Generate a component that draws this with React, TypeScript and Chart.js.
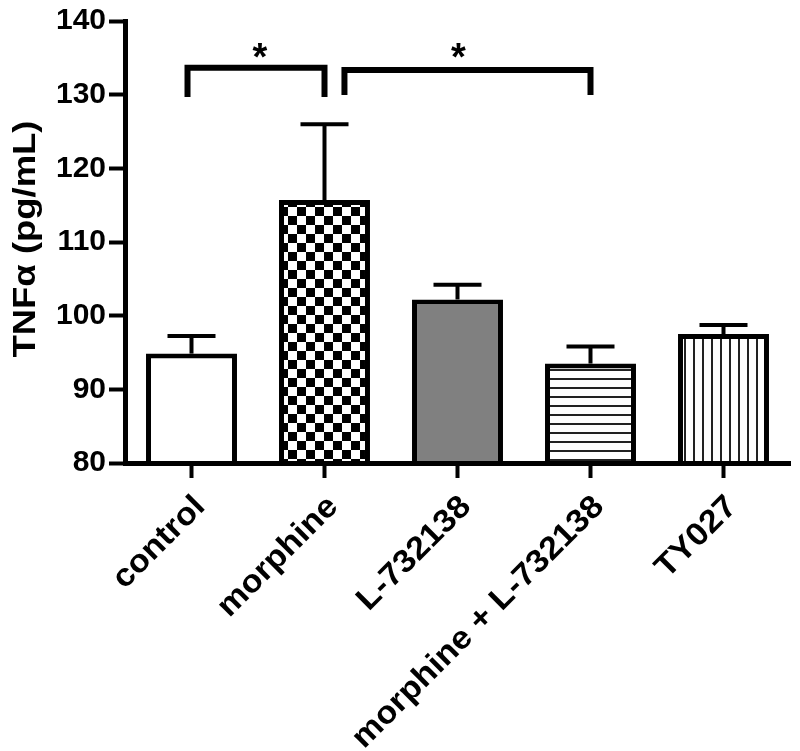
import React, { useEffect, useRef } from 'react';
import { Chart, registerables } from 'chart.js';

Chart.register(...registerables);

// ---- data ----
const categories = ['control', 'morphine', 'L-732138', 'morphine + L-732138', 'TY027'];
const means = [94.85, 115.7, 102.2, 93.5, 97.5];
const sems = [2.4, 10.3, 2.0, 2.3, 1.25];
const yMin = 80;
const yMax = 140;
const yStep = 10;
const yTitle = 'TNFα (pg/mL)';
// significance brackets, in category-index / value units
const bracketFrom = [-0.03, 1.15];
const bracketTo = [1.0, 3.0];
const bracketTop = [133.65, 133.35];
const bracketLeg = [129.7, 129.95];
const starX = [0.515, 2.006];
const starY = [136.06, 136.06];
const starText = ['*', '*'];

// ---- styles (kept separate from data) ----
const fillKinds = ['white', 'checker', 'gray', 'hlines', 'vlines'];
const FONT = '"Liberation Sans", Arial, Helvetica, sans-serif';

function makeFill(kind: string): any {
  if (kind === 'white') return '#ffffff';
  if (kind === 'gray') return '#808080';
  const c = document.createElement('canvas');
  const g = c.getContext('2d')!;
  if (kind === 'checker') {
    c.width = 18; c.height = 18;
    g.fillStyle = '#fff'; g.fillRect(0, 0, 18, 18);
    g.fillStyle = '#000'; g.fillRect(0, 0, 9, 9); g.fillRect(9, 9, 9, 9);
  } else if (kind === 'hlines') {
    c.width = 9; c.height = 9;
    g.fillStyle = '#fff'; g.fillRect(0, 0, 9, 9);
    g.fillStyle = '#222'; g.fillRect(0, 0, 9, 2);
  } else {
    c.width = 9; c.height = 9;
    g.fillStyle = '#fff'; g.fillRect(0, 0, 9, 9);
    g.fillStyle = '#222'; g.fillRect(0, 0, 2, 9);
  }
  return g.createPattern(c, 'repeat');
}

const decorPlugin = {
  id: 'decor',
  afterDatasetsDraw(chart: any) {
    const ctx = chart.ctx;
    const xs = chart.scales.x;
    const ys = chart.scales.y;
    const meta = chart.getDatasetMeta(0);
    ctx.save();
    ctx.strokeStyle = '#000';
    ctx.fillStyle = '#000';
    ctx.lineCap = 'butt';
    // error bars (upper only)
    meta.data.forEach((bar: any, i: number) => {
      const x = bar.x;
      const yTop = bar.y;
      const yCap = ys.getPixelForValue(means[i] + sems[i]);
      ctx.lineWidth = 4;
      ctx.beginPath();
      ctx.moveTo(x, yTop);
      ctx.lineTo(x, yCap);
      ctx.stroke();
      ctx.beginPath();
      ctx.moveTo(x - 24, yCap);
      ctx.lineTo(x + 24, yCap);
      ctx.stroke();
    });
    // brackets
    const catW = xs.getPixelForValue(1) - xs.getPixelForValue(0);
    const px = (v: number) => xs.getPixelForValue(0) + v * catW;
    ctx.lineWidth = 6;
    ctx.lineJoin = 'miter';
    for (let i = 0; i < bracketFrom.length; i++) {
      const x1 = px(bracketFrom[i]);
      const x2 = px(bracketTo[i]);
      const yt = ys.getPixelForValue(bracketTop[i]);
      const yl = ys.getPixelForValue(bracketLeg[i]);
      ctx.beginPath();
      ctx.moveTo(x1, yl);
      ctx.lineTo(x1, yt);
      ctx.lineTo(x2, yt);
      ctx.lineTo(x2, yl);
      ctx.stroke();
    }
    // stars
    ctx.font = `bold 38px ${FONT}`;
    ctx.textAlign = 'center';
    ctx.textBaseline = 'alphabetic';
    for (let i = 0; i < starX.length; i++) {
      const m = ctx.measureText(starText[i]);
      const asc = m.actualBoundingBoxAscent;
      const desc = m.actualBoundingBoxDescent;
      const cy = ys.getPixelForValue(starY[i]);
      ctx.fillText(starText[i], px(starX[i]), cy + (asc - desc) / 2);
    }
    ctx.restore();
  },
  afterDraw(chart: any) {
    const ctx = chart.ctx;
    const xs = chart.scales.x;
    const ys = chart.scales.y;
    ctx.save();
    ctx.fillStyle = '#000';
    // x category labels, rotated 45°
    ctx.font = `bold 32px ${FONT}`;
    ctx.textAlign = 'right';
    ctx.textBaseline = 'alphabetic';
    categories.forEach((lab, i) => {
      const tx = xs.getPixelForValue(i);
      ctx.save();
      ctx.translate(tx + 15, xs.top + 45);
      ctx.rotate(-Math.PI / 4);
      ctx.scale(1.07, 1);
      ctx.fillText(lab, 0, 0);
      ctx.restore();
    });
    // y axis title
    ctx.font = `bold 31px ${FONT}`;
    const w = ctx.measureText(yTitle).width;
    const targetLen = 237;
    const cy = (ys.getPixelForValue(yMin) + ys.getPixelForValue(yMax)) / 2;
    ctx.save();
    ctx.translate(35, cy - 3);
    ctx.rotate(-Math.PI / 2);
    ctx.scale(targetLen / w, 1);
    ctx.textAlign = 'center';
    ctx.fillText(yTitle, 0, 0);
    ctx.restore();
    ctx.restore();
  },
};

export default function App() {
  const ref = useRef<HTMLCanvasElement | null>(null);
  useEffect(() => {
    if (!ref.current) return;
    const chart = new Chart(ref.current, {
      type: 'bar',
      data: {
        labels: categories,
        datasets: [
          {
            data: means,
            backgroundColor: fillKinds.map(makeFill),
            borderColor: '#000',
            borderWidth: 5,
            borderSkipped: 'start',
            barPercentage: 0.684,
            categoryPercentage: 1,
          },
        ],
      },
      options: {
        responsive: false,
        animation: false,
        devicePixelRatio: 1,
        layout: { padding: { top: 21, right: 10, left: 0, bottom: 0 } },
        plugins: { legend: { display: false }, tooltip: { enabled: false }, title: { display: false } },
        scales: {
          x: {
            type: 'category',
            offset: true,
            grid: {
              offset: false,
              drawOnChartArea: false,
              drawTicks: true,
              tickLength: 15,
              tickWidth: 4,
              tickColor: '#000',
            },
            border: { display: true, color: '#000', width: 5, z: 1 },
            ticks: { display: false },
            afterFit: (s: any) => { s.height = 288; },
          },
          y: {
            min: yMin,
            max: yMax,
            grid: {
              drawOnChartArea: false,
              drawTicks: true,
              tickLength: 16,
              tickWidth: 4,
              tickColor: '#000',
            },
            border: { display: true, color: '#000', width: 5, z: 1 },
            ticks: {
              stepSize: yStep,
              color: '#000',
              padding: 3,
              font: { family: FONT, size: 30, weight: 'bold' },
            },
            afterFit: (s: any) => { s.width = 125; },
          },
        },
      },
      plugins: [decorPlugin],
    } as any);
    return () => chart.destroy();
  }, []);
  return (
    <div style={{ position: 'fixed', left: 0, top: 0, width: 800, height: 751, background: '#fff' }}>
      <canvas ref={ref} width={800} height={751} style={{ display: 'block' }} />
    </div>
  );
}
